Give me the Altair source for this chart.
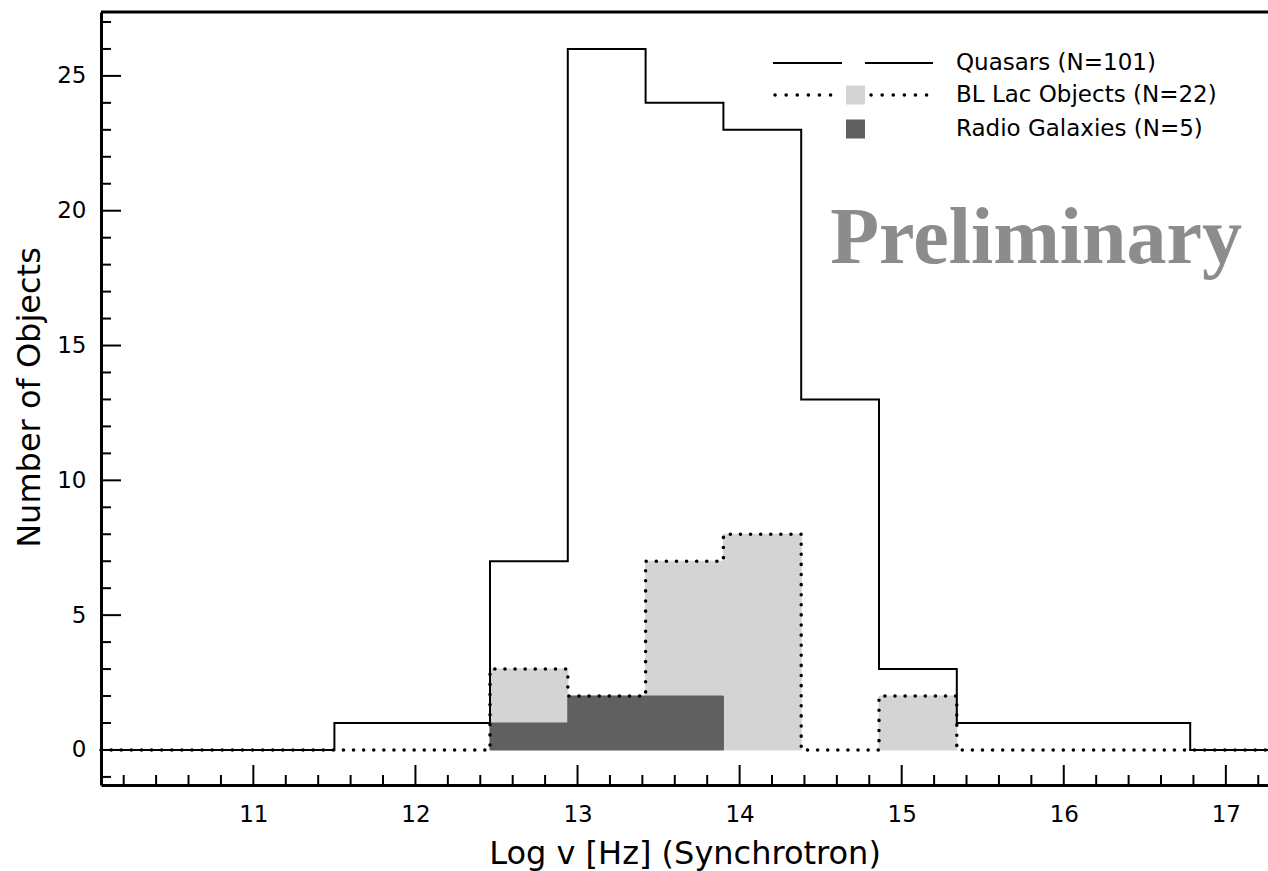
import altair as alt
import pandas as pd

# ---- data ----
bin_edges = [10.06, 10.54, 11.02, 11.50, 11.98, 12.46, 12.94, 13.42,
             13.90, 14.38, 14.86, 15.34, 15.82, 16.30, 16.78, 17.26]
quasars = [0, 0, 0, 1, 1, 7, 26, 24, 23, 13, 3, 1, 1, 1, 0]
bl_lac = [0, 0, 0, 0, 0, 3, 2, 7, 8, 0, 2, 0, 0, 0, 0]
radio_gal = [0, 0, 0, 0, 0, 1, 2, 2, 0, 0, 0, 0, 0, 0, 0]

x_major = [11, 12, 13, 14, 15, 16, 17]
x_minor = [round(10.2 + 0.2 * i, 1) for i in range(36)]
x_minor = [v for v in x_minor if abs(v - round(v)) > 1e-6]
y_major = [0, 5, 10, 15, 20, 25]
y_minor = [v for v in range(-1, 28) if v % 5 != 0]

legend_labels = ["Quasars (N=101)", "BL Lac Objects (N=22)", "Radio Galaxies (N=5)"]

W, H = 1167, 773
FONT = "DejaVu Sans"

xscale = alt.Scale(domain=[10.06, 17.26], nice=False, zero=False)
yscale = alt.Scale(domain=[-1.30, 27.37], nice=False, zero=False)

x_axis = alt.Axis(values=x_major, format="d", title="Log v [Hz] (Synchrotron)",
                  labelPadding=18, titleY=68, titleBaseline="middle")
y_axis = alt.Axis(values=y_major, format="d", title="Number of Objects",
                  labelPadding=15, titleX=-72, titleY=385, titleAngle=-90,
                  titleBaseline="middle", titleAlign="center")

def hist_df(counts):
    return pd.DataFrame({"lo": bin_edges[:-1], "hi": bin_edges[1:], "n": counts, "z": 0})

def step_df(counts):
    return pd.DataFrame({"x": bin_edges, "y": list(counts) + [counts[-1]]})

def fill(counts, color):
    return alt.Chart(hist_df(counts)).transform_filter("datum.n > 0").mark_rect(
        color=color, stroke=color, strokeWidth=1).encode(
        x=alt.X("lo:Q", scale=xscale, axis=x_axis), x2="hi:Q",
        y=alt.Y("z:Q", scale=yscale, axis=y_axis), y2="n:Q")

bl_rect = fill(bl_lac, "#d4d4d4")
rg_rect = fill(radio_gal, "#606060")

q_line = alt.Chart(step_df(quasars)).mark_line(interpolate="step-after", color="black",
                                               strokeWidth=2).encode(
    x=alt.X("x:Q", scale=xscale, axis=x_axis), y=alt.Y("y:Q", scale=yscale, axis=y_axis))
bl_line = alt.Chart(step_df(bl_lac)).mark_line(interpolate="step-after", color="black",
                                               strokeWidth=3.5, strokeDash=[0.1, 10],
                                               strokeCap="round").encode(
    x=alt.X("x:Q", scale=xscale, axis=x_axis), y=alt.Y("y:Q", scale=yscale, axis=y_axis))

def xticks(vals, length):
    return alt.Chart(pd.DataFrame({"v": vals})).mark_rule(color="black", strokeWidth=2).encode(
        x=alt.X("v:Q", scale=xscale, axis=x_axis), y=alt.value(H), y2=alt.value(H - length))

def yticks(vals, length):
    return alt.Chart(pd.DataFrame({"v": vals})).mark_rule(color="black", strokeWidth=2).encode(
        y=alt.Y("v:Q", scale=yscale, axis=y_axis), x=alt.value(0), x2=alt.value(length))

one = alt.Data(values=[{}])
top_frame = alt.Chart(one).mark_rule(color="black", strokeWidth=3).encode(
    x=alt.value(0), x2=alt.value(W), y=alt.value(0))

# legend
def seg(x1, x2, y, dotted=False):
    kw = dict(color="black", strokeWidth=2)
    if dotted:
        kw = dict(color="black", strokeWidth=3.5, strokeDash=[0.1, 11], strokeCap="round")
    return alt.Chart(one).mark_rule(**kw).encode(x=alt.value(x1), x2=alt.value(x2), y=alt.value(y))

def sq(x1, y, color):
    return alt.Chart(one).mark_rect(color=color).encode(
        x=alt.value(x1), x2=alt.value(x1 + 19), y=alt.value(y - 9.5), y2=alt.value(y + 9.5))

def label(txt, y):
    return alt.Chart(one).mark_text(text=txt, align="left", baseline="middle", font=FONT,
                                    fontSize=23, color="black").encode(
        x=alt.value(855), y=alt.value(y))

rows_y = [51, 83, 117]
legend = [
    seg(672, 741, rows_y[0]), seg(764, 832, rows_y[0]), label(legend_labels[0], rows_y[0]),
    seg(674, 738, rows_y[1], True), sq(745, rows_y[1], "#d4d4d4"), seg(770, 832, rows_y[1], True),
    label(legend_labels[1], rows_y[1]),
    sq(745, rows_y[2], "#606060"), label(legend_labels[2], rows_y[2]),
]

prelim = alt.Chart(one).mark_text(text="Preliminary", align="right", baseline="alphabetic",
                                  font="Liberation Serif", fontWeight="bold", fontSize=80,
                                  color="#8c8c8c").encode(x=alt.value(1141), y=alt.value(251))

chart = alt.layer(
    bl_rect, rg_rect, q_line, bl_line,
    xticks(x_major, 20), xticks(x_minor, 10), yticks(y_major, 20), yticks(y_minor, 10),
    top_frame, prelim, *legend
).properties(
    width=W, height=H,
    padding={"left": 101, "top": 12, "right": 0, "bottom": 86},
    autosize=alt.AutoSizeParams(type="none"),
    background="white",
).configure_view(stroke=None).configure_axis(
    grid=False, ticks=False, domainColor="black", domainWidth=3,
    labelFont=FONT, labelFontSize=23, labelColor="black",
    titleFont=FONT, titleFontSize=32, titleFontWeight="normal", titleColor="black",
)

chart.save("out.html", embed_options={"renderer": "svg", "actions": False})
